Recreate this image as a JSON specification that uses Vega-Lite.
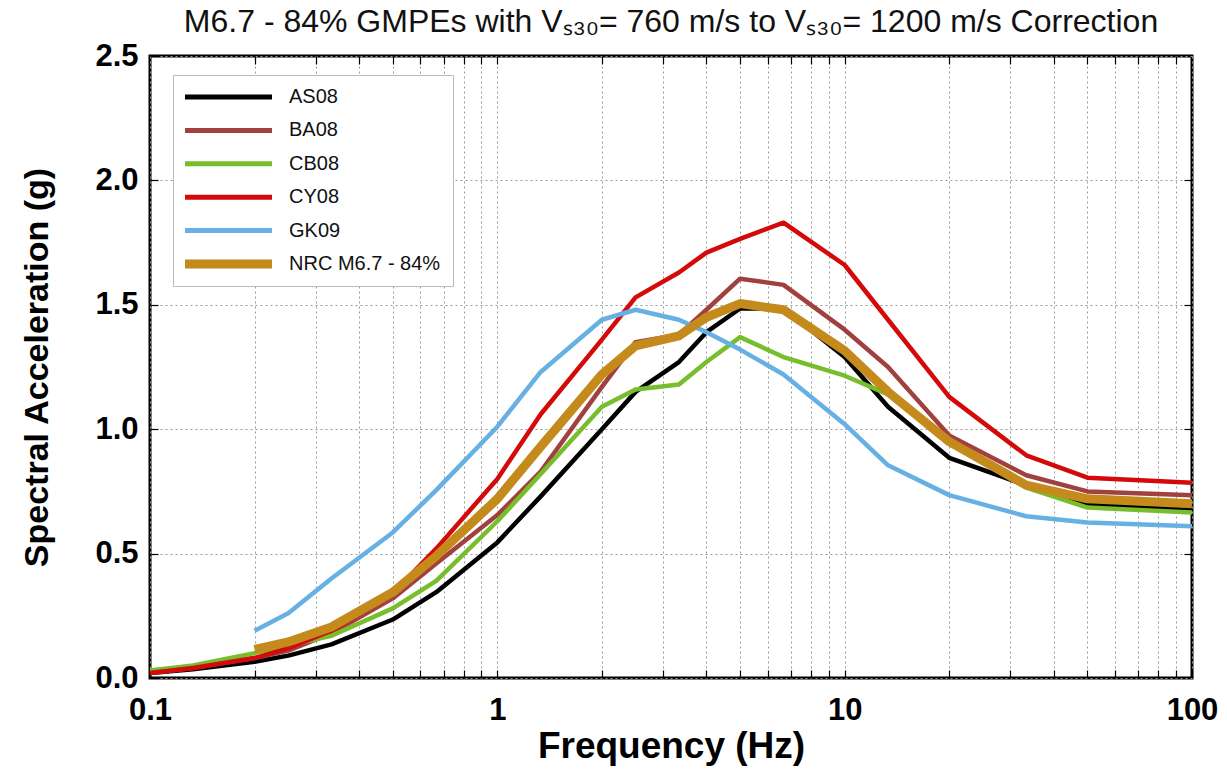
{
  "$schema": "https://vega.github.io/schema/vega-lite/v6.json",
  "width": 1042,
  "height": 622,
  "autosize": {"type": "none"},
  "padding": {"left": 150, "top": 56, "right": 35, "bottom": 94},
  "background": "white",
  "title": {
    "text": "M6.7 - 84% GMPEs with Vₛ₃₀= 760 m/s to Vₛ₃₀= 1200 m/s Correction",
    "font": "Liberation Sans",
    "fontSize": 32,
    "fontWeight": "normal",
    "color": "#111",
    "anchor": "middle",
    "offset": 1
  },
  "config": {
    "view": {"stroke": "black", "strokeWidth": 3},
    "axis": {
      "domain": false,
      "tickColor": "black",
      "tickWidth": 1.2,
      "gridColor": "#999",
      "gridDash": [2, 3],
      "gridWidth": 1,
      "labelFont": "Liberation Sans",
      "labelFontWeight": "bold",
      "labelFontSize": 31,
      "labelColor": "black",
      "titleFont": "Liberation Sans",
      "titleFontWeight": "bold",
      "titleColor": "black"
    },
    "legend": {
      "orient": "none",
      "legendX": 23,
      "legendY": 19,
      "strokeColor": "#bbb",
      "fillColor": "white",
      "padding": 12,
      "cornerRadius": 0,
      "labelFont": "Liberation Sans",
      "labelFontSize": 20,
      "labelColor": "#111",
      "labelOffset": 17,
      "symbolType": "stroke",
      "symbolSize": 7569,
      "symbolStrokeWidth": 5,
      "rowPadding": 13.4
    }
  },
  "data": {
    "values": [
      {"f": 0.1, "model": "AS08", "sa": 0.02},
      {"f": 0.133, "model": "AS08", "sa": 0.035},
      {"f": 0.2, "model": "AS08", "sa": 0.065},
      {"f": 0.25, "model": "AS08", "sa": 0.09},
      {"f": 0.333, "model": "AS08", "sa": 0.135},
      {"f": 0.5, "model": "AS08", "sa": 0.235},
      {"f": 0.667, "model": "AS08", "sa": 0.345},
      {"f": 1, "model": "AS08", "sa": 0.545},
      {"f": 1.333, "model": "AS08", "sa": 0.73},
      {"f": 2, "model": "AS08", "sa": 1.0},
      {"f": 2.5, "model": "AS08", "sa": 1.15},
      {"f": 3.333, "model": "AS08", "sa": 1.27},
      {"f": 4, "model": "AS08", "sa": 1.39},
      {"f": 5, "model": "AS08", "sa": 1.485},
      {"f": 6.667, "model": "AS08", "sa": 1.485},
      {"f": 10, "model": "AS08", "sa": 1.29},
      {"f": 13.33, "model": "AS08", "sa": 1.09},
      {"f": 20, "model": "AS08", "sa": 0.885},
      {"f": 33.33, "model": "AS08", "sa": 0.775},
      {"f": 50, "model": "AS08", "sa": 0.7},
      {"f": 100, "model": "AS08", "sa": 0.675},

      {"f": 0.1, "model": "BA08", "sa": 0.02},
      {"f": 0.133, "model": "BA08", "sa": 0.04},
      {"f": 0.2, "model": "BA08", "sa": 0.08},
      {"f": 0.25, "model": "BA08", "sa": 0.11},
      {"f": 0.333, "model": "BA08", "sa": 0.18},
      {"f": 0.5, "model": "BA08", "sa": 0.32},
      {"f": 0.667, "model": "BA08", "sa": 0.46},
      {"f": 1, "model": "BA08", "sa": 0.655},
      {"f": 1.333, "model": "BA08", "sa": 0.83},
      {"f": 2, "model": "BA08", "sa": 1.17},
      {"f": 2.5, "model": "BA08", "sa": 1.35},
      {"f": 3.333, "model": "BA08", "sa": 1.38},
      {"f": 4, "model": "BA08", "sa": 1.48},
      {"f": 5, "model": "BA08", "sa": 1.605},
      {"f": 6.667, "model": "BA08", "sa": 1.58},
      {"f": 10, "model": "BA08", "sa": 1.4},
      {"f": 13.33, "model": "BA08", "sa": 1.25},
      {"f": 20, "model": "BA08", "sa": 0.975},
      {"f": 33.33, "model": "BA08", "sa": 0.815},
      {"f": 50, "model": "BA08", "sa": 0.75},
      {"f": 100, "model": "BA08", "sa": 0.735},

      {"f": 0.1, "model": "CB08", "sa": 0.03},
      {"f": 0.133, "model": "CB08", "sa": 0.05},
      {"f": 0.2, "model": "CB08", "sa": 0.1},
      {"f": 0.25, "model": "CB08", "sa": 0.13},
      {"f": 0.333, "model": "CB08", "sa": 0.17},
      {"f": 0.5, "model": "CB08", "sa": 0.28},
      {"f": 0.667, "model": "CB08", "sa": 0.39},
      {"f": 1, "model": "CB08", "sa": 0.63},
      {"f": 1.333, "model": "CB08", "sa": 0.82},
      {"f": 2, "model": "CB08", "sa": 1.09},
      {"f": 2.5, "model": "CB08", "sa": 1.16},
      {"f": 3.333, "model": "CB08", "sa": 1.18},
      {"f": 4, "model": "CB08", "sa": 1.27},
      {"f": 5, "model": "CB08", "sa": 1.37},
      {"f": 6.667, "model": "CB08", "sa": 1.29},
      {"f": 10, "model": "CB08", "sa": 1.215},
      {"f": 13.33, "model": "CB08", "sa": 1.14},
      {"f": 20, "model": "CB08", "sa": 0.95},
      {"f": 33.33, "model": "CB08", "sa": 0.765},
      {"f": 50, "model": "CB08", "sa": 0.685},
      {"f": 100, "model": "CB08", "sa": 0.665},

      {"f": 0.1, "model": "CY08", "sa": 0.02},
      {"f": 0.133, "model": "CY08", "sa": 0.04},
      {"f": 0.2, "model": "CY08", "sa": 0.08},
      {"f": 0.25, "model": "CY08", "sa": 0.12},
      {"f": 0.333, "model": "CY08", "sa": 0.19},
      {"f": 0.5, "model": "CY08", "sa": 0.34},
      {"f": 0.667, "model": "CY08", "sa": 0.52},
      {"f": 1, "model": "CY08", "sa": 0.8},
      {"f": 1.333, "model": "CY08", "sa": 1.06},
      {"f": 2, "model": "CY08", "sa": 1.36},
      {"f": 2.5, "model": "CY08", "sa": 1.53},
      {"f": 3.333, "model": "CY08", "sa": 1.63},
      {"f": 4, "model": "CY08", "sa": 1.71},
      {"f": 5, "model": "CY08", "sa": 1.765},
      {"f": 6.667, "model": "CY08", "sa": 1.83},
      {"f": 10, "model": "CY08", "sa": 1.66},
      {"f": 13.33, "model": "CY08", "sa": 1.44},
      {"f": 20, "model": "CY08", "sa": 1.13},
      {"f": 33.33, "model": "CY08", "sa": 0.895},
      {"f": 50, "model": "CY08", "sa": 0.805},
      {"f": 100, "model": "CY08", "sa": 0.785},

      {"f": 0.2, "model": "GK09", "sa": 0.19},
      {"f": 0.25, "model": "GK09", "sa": 0.26},
      {"f": 0.333, "model": "GK09", "sa": 0.4},
      {"f": 0.5, "model": "GK09", "sa": 0.585},
      {"f": 0.667, "model": "GK09", "sa": 0.755},
      {"f": 1, "model": "GK09", "sa": 1.01},
      {"f": 1.333, "model": "GK09", "sa": 1.23},
      {"f": 2, "model": "GK09", "sa": 1.44},
      {"f": 2.5, "model": "GK09", "sa": 1.48},
      {"f": 3.333, "model": "GK09", "sa": 1.44},
      {"f": 4, "model": "GK09", "sa": 1.39},
      {"f": 5, "model": "GK09", "sa": 1.32},
      {"f": 6.667, "model": "GK09", "sa": 1.22},
      {"f": 10, "model": "GK09", "sa": 1.02},
      {"f": 13.33, "model": "GK09", "sa": 0.855},
      {"f": 20, "model": "GK09", "sa": 0.735},
      {"f": 33.33, "model": "GK09", "sa": 0.65},
      {"f": 50, "model": "GK09", "sa": 0.625},
      {"f": 100, "model": "GK09", "sa": 0.61},

      {"f": 0.2, "model": "NRC M6.7 - 84%", "sa": 0.115},
      {"f": 0.25, "model": "NRC M6.7 - 84%", "sa": 0.145},
      {"f": 0.333, "model": "NRC M6.7 - 84%", "sa": 0.205},
      {"f": 0.5, "model": "NRC M6.7 - 84%", "sa": 0.345},
      {"f": 0.667, "model": "NRC M6.7 - 84%", "sa": 0.49},
      {"f": 1, "model": "NRC M6.7 - 84%", "sa": 0.72},
      {"f": 1.333, "model": "NRC M6.7 - 84%", "sa": 0.93},
      {"f": 2, "model": "NRC M6.7 - 84%", "sa": 1.22},
      {"f": 2.5, "model": "NRC M6.7 - 84%", "sa": 1.335},
      {"f": 3.333, "model": "NRC M6.7 - 84%", "sa": 1.375},
      {"f": 4, "model": "NRC M6.7 - 84%", "sa": 1.45},
      {"f": 5, "model": "NRC M6.7 - 84%", "sa": 1.505},
      {"f": 6.667, "model": "NRC M6.7 - 84%", "sa": 1.48},
      {"f": 10, "model": "NRC M6.7 - 84%", "sa": 1.315},
      {"f": 13.33, "model": "NRC M6.7 - 84%", "sa": 1.15},
      {"f": 20, "model": "NRC M6.7 - 84%", "sa": 0.95},
      {"f": 33.33, "model": "NRC M6.7 - 84%", "sa": 0.775},
      {"f": 50, "model": "NRC M6.7 - 84%", "sa": 0.72},
      {"f": 100, "model": "NRC M6.7 - 84%", "sa": 0.7}
    ]
  },
  "resolve": {"axis": {"x": "independent", "y": "independent"}},
  "layer": [
    {
      "transform": [{"filter": "datum.model !== 'NRC M6.7 - 84%'"}],
      "mark": {"type": "line", "strokeWidth": 4.5, "strokeJoin": "round", "strokeCap": "butt"},
      "encoding": {
        "x": {
          "field": "f", "type": "quantitative",
          "scale": {"type": "log", "domain": [0.1, 100], "nice": false},
          "axis": {
            "orient": "bottom",
            "title": "Frequency (Hz)",
            "titleFontSize": 37,
            "titlePadding": 3,
            "values": [0.1,0.2,0.3,0.4,0.5,0.6,0.7,0.8,0.9,1,2,3,4,5,6,7,8,9,10,20,30,40,50,60,70,80,90,100],
            "labelExpr": "indexof([0.1,1,10,100], datum.value) >= 0 ? datum.label : ''",
            "format": "~g",
            "tickSize": -8,
            "labelPadding": 25,
            "grid": true,
            "labelFlush": false,
            "labelOverlap": false
          }
        },
        "y": {
          "field": "sa", "type": "quantitative",
          "scale": {"domain": [0, 2.5], "nice": false},
          "axis": {
            "orient": "left",
            "title": "Spectral Acceleration (g)",
            "titleFontSize": 34,
            "titlePadding": 40,
            "values": [0, 0.5, 1, 1.5, 2, 2.5],
            "format": ".1f",
            "tickSize": -8,
            "labelPadding": 20,
            "grid": true
          }
        },
        "color": {
          "field": "model", "type": "nominal",
          "scale": {
            "domain": ["AS08", "BA08", "CB08", "CY08", "GK09", "NRC M6.7 - 84%"],
            "range": ["#000000", "#a0403f", "#78bd2b", "#d40a0a", "#67b0e4", "#c48a1c"]
          },
          "legend": {
            "title": null,
            "encode": {
              "symbols": {
                "update": {
                  "x": {"value": 43.5},
                  "strokeJoin": {"value": "round"},
                  "strokeCap": {"value": "butt"},
                  "strokeWidth": {"signal": "datum.value === 'NRC M6.7 - 84%' ? 9 : 5"}
                }
              },
              "labels": {
                "update": {"x": {"value": 104}}
              }
            }
          }
        }
      }
    },
    {
      "transform": [{"filter": "datum.model === 'NRC M6.7 - 84%'"}],
      "mark": {"type": "line", "strokeWidth": 9, "strokeJoin": "round", "strokeCap": "butt"},
      "encoding": {
        "x": {
          "field": "f", "type": "quantitative",
          "axis": {
            "orient": "top",
            "title": null,
            "values": [0.2,0.3,0.4,0.5,0.6,0.7,0.8,0.9,1,2,3,4,5,6,7,8,9,10,20,30,40,50,60,70,80,90],
            "labels": false,
            "tickSize": -8,
            "grid": false
          }
        },
        "y": {
          "field": "sa", "type": "quantitative",
          "axis": {
            "orient": "right",
            "title": null,
            "values": [0.5, 1, 1.5, 2],
            "labels": false,
            "tickSize": -8,
            "grid": false
          }
        },
        "color": {"field": "model", "type": "nominal"}
      }
    }
  ]
}
